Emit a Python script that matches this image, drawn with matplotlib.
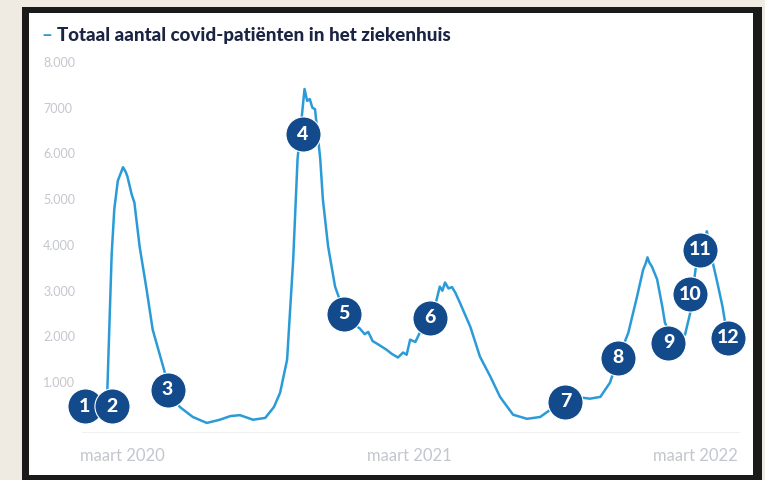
import pandas as pd
import matplotlib
matplotlib.use("Agg")
import matplotlib.pyplot as plt
from matplotlib.patches import Rectangle

# data: days since 1 March 2020 and number of covid patients in hospital
start = pd.Timestamp("2020-03-01")
days = [17, 19, 24, 27, 31, 37, 40, 42, 47, 50, 56, 64, 71, 83, 91, 102, 117, 133,
        148, 160, 171, 186, 200, 210, 217, 225, 232, 237, 245, 248, 251, 254, 257,
        263, 266, 272, 280, 291, 296, 300, 304, 308, 314, 318, 323, 330, 339, 345,
        352, 358, 362, 366, 372, 377, 383, 389, 395, 400, 403, 406, 410, 414, 418,
        423, 435, 446, 458, 469, 484, 500, 515, 526, 544, 552, 564, 572, 584, 595,
        604, 616, 626, 633, 636, 638, 640, 643, 649, 655, 658, 664, 681, 687, 693,
        698, 703, 706, 709, 712, 718, 724, 727]
patients = [300, 800, 3800, 4780, 5400, 5700, 5600, 5500, 5100, 4930, 3970, 3030,
            2150, 1340, 800, 460, 240, 110, 180, 260, 280, 180, 220, 460, 770, 1490,
            3680, 5880, 7410, 7150, 7190, 7000, 6970, 5880, 5000, 3970, 3090, 2500,
            2380, 2300, 2230, 2180, 2050, 2100, 1900, 1820, 1710, 1620, 1540, 1650,
            1600, 1930, 1880, 2080, 2150, 2500, 2700, 3090, 3000, 3180, 3050, 3080,
            2950, 2740, 2210, 1560, 1120, 680, 290, 200, 240, 390, 500, 600, 660,
            640, 680, 990, 1500, 2080, 2870, 3460, 3600, 3730, 3620, 3530, 3250,
            2650, 2300, 2050, 2040, 2520, 3460, 3900, 4100, 4300, 4000, 3680, 3180,
            2650, 2300]

# numbered markers
marker_nums = ["1", "2", "3", "4", "5", "6", "7", "8", "9", "10", "11", "12"]
marker_days = [-7, 24, 88, 243, 290, 389, 544, 604, 662, 687, 698, 730]
marker_vals = [480, 480, 830, 6420, 2500, 2410, 570, 1540, 1860, 2920, 3900, 1970]

ytick_vals = [1000, 2000, 3000, 4000, 5000, 6000, 7000, 8000]
ytick_labels = ["1.000", "2.000", "3.000", "4.000", "5.000", "6.000", "7000", "8.000"]
xlabels = ["maart 2020", "maart 2021", "maart 2022"]

line_color = "#2b9bd8"
navy = "#134a8c"
grey = "#c4c6ce"

plt.rcParams["font.family"] = ["Lato", "DejaVu Sans"]

fig = plt.figure(figsize=(7.65, 4.8), dpi=100)
fig.patch.set_facecolor("#efeae2")

# black frame with white panel
W, H = 765, 480
fig.patches.append(Rectangle((22 / W, 0), (762 - 22) / W, (480 - 7) / H,
                             transform=fig.transFigure, facecolor="#1a1a1a",
                             edgecolor="none", zorder=-2))
fig.patches.append(Rectangle((29 / W, (480 - 475) / H), (753 - 29) / W, (475 - 13) / H,
                             transform=fig.transFigure, facecolor="white",
                             edgecolor="none", zorder=-1))

ax = fig.add_axes([82 / W, (480 - 433) / H, (740 - 82) / W, (433 - 62) / H])
ax.set_facecolor("none")
ax.set_zorder(2)

x_dates = start + pd.to_timedelta(days, unit="D")
ax.plot(x_dates, patients, color=line_color, lw=1.8, zorder=2)

m_dates = start + pd.to_timedelta(marker_days, unit="D")
ax.scatter(m_dates, marker_vals, s=640, color=navy, edgecolor="white",
           linewidth=0.8, zorder=3, clip_on=False)
for d, v, n in zip(m_dates, marker_vals, marker_nums):
    ax.text(d, v, n, color="white", fontsize=14, fontweight="black",
            ha="center", va="center", zorder=4)

ax.set_xlim(start - pd.Timedelta(days=10), start + pd.Timedelta(days=744))
ax.set_ylim(-110, 8000)

for s in ax.spines.values():
    s.set_visible(False)
ax.axhline(-110, color="#eef0f3", lw=1.5, zorder=1)

ax.set_yticks(ytick_vals)
ax.set_yticklabels(ytick_labels, color=grey, fontsize=9)
for lab in ax.get_yticklabels():
    lab.set_ha("left")
ax.tick_params(axis="y", length=0, pad=28)
ax.set_xticks([])

# x labels placed under the axis
trans = fig.transFigure
ax.text(80 / W, (480 - 456) / H, xlabels[0], transform=trans, color=grey,
        fontsize=12, ha="left", va="center")
ax.text(409 / W, (480 - 456) / H, xlabels[1], transform=trans, color=grey,
        fontsize=12, ha="center", va="center")
ax.text(738 / W, (480 - 456) / H, xlabels[2], transform=trans, color=grey,
        fontsize=12, ha="right", va="center")

# title with blue dash
fig.text(41 / W, (480 - 35) / H, "–", color=line_color, fontsize=13.5,
         fontweight="bold", ha="left", va="center")
fig.text(57 / W, (480 - 35) / H, "Totaal aantal covid-patiënten in het ziekenhuis",
         color="#1b2443", fontsize=13.5, fontweight="black", ha="left", va="center")

fig.savefig("out.png", dpi=100, facecolor=fig.get_facecolor())
